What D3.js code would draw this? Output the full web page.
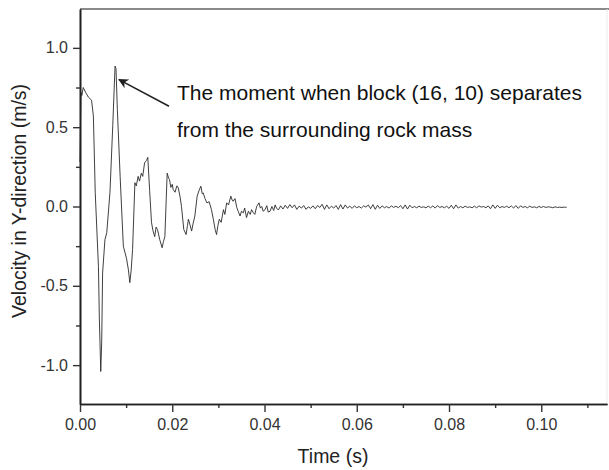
<!doctype html>
<html>
<head>
	<meta charset="utf-8">
	<script src="https://d3js.org/d3.v7.min.js"></script>
	<style>
		body { margin: 0; background: #fff; }
		text { font-family: "Liberation Sans", Arial, sans-serif; }
	</style>
</head>
<body>
	<div id="viz">
		<svg width="609" height="470"></svg>
	</div>
	<script>
		// time (s) and velocity (m/s)
		var velocityEarly = [
			[0, 0.28], [0.0002, 0.72], [0.0004, 0.70], [0.0007, 0.75], [0.0012, 0.72],
			[0.0018, 0.69], [0.0025, 0.67], [0.0029, 0.57], [0.0033, 0.09], [0.0040, -0.38],
			[0.0042, -0.71], [0.0045, -1.04], [0.0047, -0.86], [0.0049, -0.42], [0.0054, -0.21],
			[0.0058, -0.165], [0.0065, 0.09], [0.0071, 0.51], [0.0076, 0.885], [0.0078, 0.87],
			[0.0081, 0.61], [0.0087, 0.19], [0.0094, -0.25], [0.0101, -0.33], [0.0105, -0.40],
			[0.0108, -0.48], [0.0111, -0.40], [0.0114, -0.27], [0.0119, 0.15], [0.0122, 0.13],
			[0.0126, 0.19], [0.0129, 0.16], [0.0133, 0.21], [0.0136, 0.19], [0.0140, 0.275],
			[0.0144, 0.29], [0.0147, 0.31], [0.0151, 0.10], [0.0155, -0.10], [0.0158, -0.15],
			[0.0162, -0.19], [0.0165, -0.13], [0.0168, -0.145], [0.0173, -0.21], [0.0178, -0.26],
			[0.0181, -0.22], [0.0184, -0.19], [0.0187, 0.05], [0.0189, 0.21], [0.0192, 0.18],
			[0.0194, 0.17], [0.0197, 0.12], [0.0200, 0.14], [0.0202, 0.107], [0.0206, 0.09],
			[0.0210, 0.13], [0.0213, 0.118], [0.0217, 0.06], [0.0220, 0.0], [0.0225, -0.145],
			[0.0230, -0.177], [0.0233, -0.12], [0.0235, -0.08], [0.0238, -0.11], [0.0242, -0.155],
			[0.0245, -0.11], [0.0249, -0.06], [0.0254, 0.065], [0.0258, 0.10], [0.0262, 0.128],
			[0.0265, 0.08], [0.0267, 0.086], [0.0271, 0.05], [0.0275, 0.023], [0.0280, 0.03],
			[0.0285, -0.02], [0.0289, -0.08], [0.0293, -0.145], [0.0296, -0.177], [0.0299, -0.12],
			[0.0302, -0.08], [0.0306, -0.10], [0.0311, -0.02], [0.0314, -0.05], [0.0318, 0.023],
			[0.0322, 0.01], [0.0327, 0.065], [0.0330, 0.04], [0.0332, 0.033], [0.0336, 0.05],
			[0.0340, -0.008], [0.0343, -0.03], [0.0347, -0.06], [0.0350, -0.03], [0.0354, -0.04],
			[0.0357, -0.01], [0.0361, -0.07], [0.0365, -0.03], [0.0369, -0.05], [0.0372, -0.02],
			[0.0376, -0.04], [0.0379, -0.05], [0.0383, 0.0], [0.0388, 0.023], [0.0391, -0.01],
			[0.0394, 0.0], [0.0397, -0.03], [0.0401, -0.02], [0.0405, 0.005], [0.0408, -0.035],
			[0.0412, -0.03], [0.0416, 0.0], [0.0420, -0.025], [0.0423, 0.01], [0.0426, -0.01]
		];

		var velocityTail = [
			[0.0430, -0.022], [0.0435, 0.004], [0.0440, -0.016], [0.0445, 0.008], [0.0450, -0.012],
			[0.0455, 0.012], [0.0460, -0.008], [0.0465, 0.010], [0.0470, -0.018], [0.0475, 0.002],
			[0.0480, -0.010], [0.0485, 0.006], [0.0490, -0.018], [0.0495, -0.002], [0.0500, -0.012],
			[0.0505, 0.004], [0.0510, -0.014], [0.0515, 0.006], [0.0520, -0.006], [0.0525, 0.014],
			[0.0530, -0.018], [0.0535, 0.010], [0.0540, -0.014], [0.0545, 0.002], [0.0550, -0.010],
			[0.0555, 0.006], [0.0560, -0.018], [0.0565, 0.012], [0.0570, -0.016], [0.0575, 0.010],
			[0.0580, -0.010], [0.0585, 0.002], [0.0590, -0.012], [0.0595, 0.004], [0.0600, -0.008],
			[0.0605, 0.000], [0.0610, -0.010], [0.0615, 0.004], [0.0620, -0.004], [0.0625, 0.010],
			[0.0630, -0.014], [0.0635, 0.012], [0.0640, -0.018], [0.0645, 0.008], [0.0650, -0.012],
			[0.0655, 0.004], [0.0660, -0.008], [0.0665, 0.000], [0.0670, -0.010], [0.0675, 0.004],
			[0.0680, -0.006], [0.0685, 0.002], [0.0690, -0.008], [0.0695, 0.006], [0.0700, -0.014],
			[0.0705, 0.010], [0.0710, -0.016], [0.0715, 0.008], [0.0720, -0.008], [0.0725, 0.000],
			[0.0730, -0.008], [0.0735, 0.002], [0.0740, -0.006], [0.0745, -0.002], [0.0750, -0.008],
			[0.0755, 0.002], [0.0760, -0.008], [0.0765, 0.004], [0.0770, -0.010], [0.0775, 0.006],
			[0.0780, -0.006], [0.0785, 0.000], [0.0790, -0.008], [0.0795, 0.002], [0.0800, -0.012],
			[0.0805, 0.008], [0.0810, -0.014], [0.0815, 0.010], [0.0820, -0.010], [0.0825, 0.000],
			[0.0830, -0.008], [0.0835, 0.002], [0.0840, -0.006], [0.0845, -0.002], [0.0850, -0.008],
			[0.0855, 0.002], [0.0860, -0.008], [0.0865, 0.004], [0.0870, -0.004], [0.0875, 0.000],
			[0.0880, -0.008], [0.0885, 0.004], [0.0890, -0.014], [0.0895, 0.010], [0.0900, -0.012],
			[0.0905, 0.008], [0.0910, -0.008], [0.0915, 0.000], [0.0920, -0.006], [0.0925, 0.002],
			[0.0930, -0.008], [0.0935, 0.004], [0.0940, -0.010], [0.0945, 0.006], [0.0950, -0.012],
			[0.0955, 0.004], [0.0960, -0.006], [0.0965, 0.000], [0.0970, -0.008], [0.0975, 0.002],
			[0.0980, -0.006], [0.0985, -0.002], [0.0990, -0.008], [0.0995, 0.000], [0.1000, -0.006],
			[0.1005, 0.000], [0.1010, -0.006], [0.1015, -0.002], [0.1020, -0.004], [0.1025, -0.008],
			[0.1030, -0.002], [0.1035, -0.006], [0.1040, -0.004], [0.1045, -0.006], [0.1050, -0.004],
			[0.1055, -0.005]
		];

		var xTicks = [0, 0.02, 0.04, 0.06, 0.08, 0.10];
		var xMinorTicks = [0.01, 0.03, 0.05, 0.07, 0.09, 0.11];
		var yTicks = [-1.0, -0.5, 0.0, 0.5, 1.0];
		var yMinorTicks = [-0.75, -0.25, 0.25, 0.75];

		var noteLines = ["The moment when block (16, 10) separates", "from the surrounding rock mass"];
		var arrowFrom = [0.0193, 0.632];
		var arrowTo = [0.00845, 0.80];

		dataViz()
		function dataViz() {
			var svg = d3.select("svg");
			var plotLeft = 80, plotRight = 607, plotTop = 9, plotBottom = 404;

			var xScale = d3.scaleLinear().domain([0, 0.11425]).range([plotLeft, plotRight]);
			var yScale = d3.scaleLinear().domain([-1.245, 1.245]).range([plotBottom, plotTop]);

			svg.append("rect").attr("width", 609).attr("height", 470).attr("fill", "#fff");

			// frame top / right
			svg.append("line")
				.attr("x1", plotLeft).attr("x2", 609).attr("y1", plotTop).attr("y2", plotTop)
				.attr("stroke", "#8a8a8a").attr("stroke-width", 2);
			svg.append("line")
				.attr("x1", plotRight).attr("x2", plotRight).attr("y1", plotTop).attr("y2", plotBottom)
				.attr("stroke", "#ececec").attr("stroke-width", 1);

			// the curve
			var line = d3.line().x(d => xScale(d[0])).y(d => yScale(d[1]));
			svg.append("path")
				.datum(velocityEarly.concat(velocityTail))
				.attr("d", line)
				.attr("fill", "none")
				.attr("stroke", "#2a2a2a")
				.attr("stroke-width", 0.9)
				.attr("stroke-linejoin", "round");

			// axes (plain hyphen for negatives, as in the figure)
			var xAxis = d3.axisBottom(xScale).tickValues(xTicks).tickFormat(d => d.toFixed(2))
				.tickSize(8).tickSizeOuter(0).tickPadding(7);
			var xMinor = d3.axisBottom(xScale).tickValues(xMinorTicks).tickFormat("")
				.tickSize(4).tickSizeOuter(0);
			var yAxis = d3.axisLeft(yScale).tickValues(yTicks).tickFormat(d => d.toFixed(1))
				.tickSize(7).tickSizeOuter(0).tickPadding(5);
			var yMinor = d3.axisLeft(yScale).tickValues(yMinorTicks).tickFormat("")
				.tickSize(4).tickSizeOuter(0);

			svg.append("g").attr("transform", "translate(0," + plotBottom + ")").call(xMinor);
			svg.append("g").attr("id", "xAxisG").attr("transform", "translate(0," + plotBottom + ")").call(xAxis);
			svg.append("g").attr("transform", "translate(" + plotLeft + ",0)").call(yMinor);
			svg.append("g").attr("id", "yAxisG").attr("transform", "translate(" + plotLeft + ",0)").call(yAxis);

			svg.selectAll(".domain").attr("stroke", "#222").attr("stroke-width", 1.6);
			svg.selectAll(".tick line").attr("stroke", "#333").attr("stroke-width", 1.4);
			svg.selectAll(".tick text")
				.attr("font-family", "'Liberation Sans', Arial, sans-serif")
				.attr("font-size", 16).attr("fill", "#333");

			// axis titles
			svg.append("text")
				.attr("x", 333).attr("y", 463)
				.attr("text-anchor", "middle").attr("font-size", 19.5).attr("fill", "#222")
				.text("Time (s)");
			svg.append("text")
				.attr("transform", "translate(26,201) rotate(-90)")
				.attr("text-anchor", "middle").attr("font-size", 19.5).attr("fill", "#222")
				.text("Velocity in Y-direction (m/s)");

			// annotation
			svg.append("defs").append("marker")
				.attr("id", "head").attr("viewBox", "0 0 10 10")
				.attr("refX", 9).attr("refY", 5)
				.attr("markerWidth", 12).attr("markerHeight", 10)
				.attr("markerUnits", "userSpaceOnUse")
				.attr("orient", "auto")
				.append("path").attr("d", "M0,0 L10,5 L0,10 L3,5 z").attr("fill", "#222");
			svg.append("line")
				.attr("x1", xScale(arrowFrom[0])).attr("y1", yScale(arrowFrom[1]))
				.attr("x2", xScale(arrowTo[0])).attr("y2", yScale(arrowTo[1]))
				.attr("stroke", "#222").attr("stroke-width", 1.6)
				.attr("marker-end", "url(#head)");

			svg.selectAll(".note")
				.data(noteLines)
				.enter()
				.append("text")
					.attr("class", "note")
					.attr("x", 177)
					.attr("y", (d, i) => 100 + i * 37)
					.attr("font-size", 21)
					.attr("fill", "#111")
					.text(d => d);
		}
	</script>
</body>
</html>
